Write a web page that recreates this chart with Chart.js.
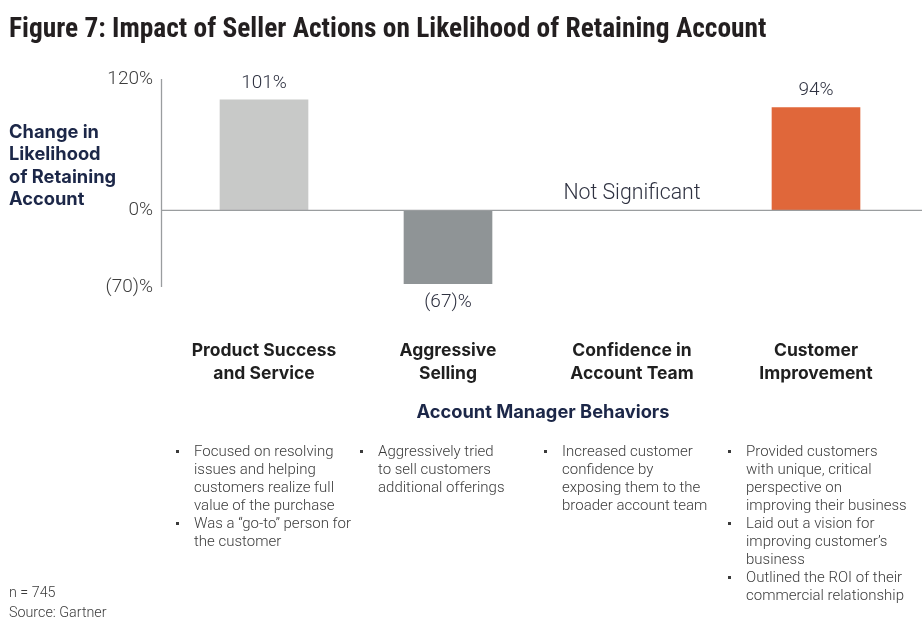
<!DOCTYPE html>
<html>
<head>
<meta charset="utf-8">
<script src="https://cdn.jsdelivr.net/npm/chart.js@4.4.1/dist/chart.umd.min.js"></script>
<style>
  html, body { margin: 0; padding: 0; background: #fff; }
  #wrap { position: relative; width: 922px; height: 624px; overflow: hidden; }
  #c { position: absolute; left: 0; top: 0; }
  .title { position: absolute; left: 9px; top: 12px; font-family: "Liberation Sans Narrow", "Roboto Condensed", sans-serif; font-weight: 700; font-size: 27.4px; color: #231f20; white-space: nowrap; }
  .ytitle { position: absolute; left: 9px; top: 120px; font-family: Inter, Roboto, sans-serif; font-weight: 700; font-size: 18.3px; line-height: 22.3px; color: #1c2748; }
  .col { position: absolute; top: 442px; font-family: Roboto, sans-serif; font-weight: 300; font-size: 15px; line-height: 18px; color: #3b3b3b; white-space: nowrap; }
  .item { position: relative; padding-left: 18px; }
  .item::before { content: ""; position: absolute; left: 0; top: 8px; width: 3px; height: 3px; background: #3b3b3b; }
  .foot { position: absolute; left: 9px; top: 582px; font-family: Roboto, sans-serif; font-weight: 300; font-size: 14.3px; line-height: 20px; color: #3b3b3b; }
</style>
</head>
<body>
<div id="wrap">
  <canvas id="c" width="922" height="624"></canvas>
  <div class="title" id="title"></div>
  <div class="ytitle" id="ytitle"></div>
  <div id="cols"></div>
  <div class="foot" id="foot"></div>
</div>
<script>
// ---- data ----
const titleText = "Figure 7: Impact of Seller Actions on Likelihood of Retaining Account";
const yAxisTitle = ["Change in", "Likelihood", "of Retaining", "Account"];
const xAxisTitle = "Account Manager Behaviors";
const categories = [
  ["Product Success", "and Service"],
  ["Aggressive", "Selling"],
  ["Confidence in", "Account Team"],
  ["Customer", "Improvement"]
];
const values = [101, -67, null, 94];
const valueLabels = ["101%", "(67)%", "Not Significant", "94%"];
const yTickValues = [-70, 0, 120];
const yTickLabels = ["(70)%", "0%", "120%"];
const barColors = ["#c8c9c8", "#8f9496", "rgba(0,0,0,0)", "#e0673a"];
const bullets = [
  [["Focused on resolving", "issues and helping", "customers realize full", "value of the purchase"], ["Was a \u201cgo-to\u201d person for", "the customer"]],
  [["Aggressively tried", "to sell customers", "additional offerings"]],
  [["Increased customer", "confidence by", "exposing them to the", "broader account team"]],
  [["Provided customers", "with unique, critical", "perspective on", "improving their business"], ["Laid out a vision for", "improving customer\u2019s", "business"], ["Outlined the ROI of their", "commercial relationship"]]
];
const footnotes = ["n = 745", "Source: Gartner"];

// ---- html text ----
document.getElementById('title').textContent = titleText;
document.getElementById('ytitle').innerHTML = yAxisTitle.map(s => '<div>' + s + '</div>').join('');
document.getElementById('foot').innerHTML = footnotes.map(s => '<div>' + s + '</div>').join('');

const lineColor = '#9a9d9f';

const overlay = {
  id: 'overlay',
  beforeDatasetsDraw(chart) {
    const {ctx, chartArea, scales: {y}} = chart;
    const axisX = chartArea.left - 10.5;
    ctx.save();
    ctx.strokeStyle = lineColor;
    ctx.lineWidth = 1.3;
    ctx.beginPath();
    ctx.moveTo(axisX, y.getPixelForValue(120));
    ctx.lineTo(axisX, y.getPixelForValue(-70));
    ctx.stroke();
    ctx.restore();
  },
  afterDatasetsDraw(chart) {
    const {ctx, chartArea, scales: {x, y}} = chart;
    const axisX = chartArea.left - 10.5;
    const y0 = y.getPixelForValue(0);
    ctx.save();
    ctx.strokeStyle = lineColor;
    ctx.lineWidth = 1.3;
    ctx.beginPath();
    ctx.moveTo(axisX, y0);
    ctx.lineTo(chart.width, y0);
    ctx.stroke();

    // value labels
    ctx.fillStyle = '#2e3140';
    ctx.textAlign = 'center';
    ctx.textBaseline = 'middle';
    values.forEach((v, i) => {
      const cx = x.getPixelForValue(i);
      let ty;
      ctx.font = '300 19px Roboto, sans-serif';
      if (v === null) { ty = y0 - 17; ctx.font = '300 21.3px Roboto, sans-serif'; }
      else if (v >= 0) ty = y.getPixelForValue(v) - 17;
      else ty = y.getPixelForValue(v) + 19;
      ctx.fillText(valueLabels[i], cx, ty);
    });

    // category labels
    ctx.font = '700 17.5px Inter, Roboto, sans-serif';
    ctx.fillStyle = '#1f1f1f';
    categories.forEach((lines, i) => {
      const cx = x.getPixelForValue(i);
      lines.forEach((s, k) => ctx.fillText(s, cx, chartArea.bottom + 64 + k * 23));
    });
    // x axis title
    ctx.font = '700 18.3px Inter, Roboto, sans-serif';
    ctx.fillStyle = '#1c2748';
    const mid = (x.getPixelForValue(0) + x.getPixelForValue(categories.length - 1)) / 2;
    ctx.fillText(xAxisTitle, mid + 3, chartArea.bottom + 126);
    ctx.restore();

    // bullets (html) positioned from category centers
    const cols = document.getElementById('cols');
    if (!cols.dataset.done) {
      cols.dataset.done = '1';
      bullets.forEach((items, i) => {
        const cx = x.getPixelForValue(i);
        const d = document.createElement('div');
        d.className = 'col';
        d.style.left = (cx - 88) + 'px';
        d.innerHTML = items.map(lines => '<div class="item">' + lines.join('<br>') + '</div>').join('');
        cols.appendChild(d);
      });
    }
  }
};

new Chart(document.getElementById('c'), {
  type: 'bar',
  data: {
    labels: categories,
    datasets: [{
      data: values,
      backgroundColor: barColors,
      borderWidth: 0,
      barThickness: 88
    }]
  },
  options: {
    responsive: false,
    animation: false,
    events: [],
    layout: { padding: { top: 79, right: 14, bottom: 337, left: 0 } },
    plugins: { legend: { display: false }, tooltip: { enabled: false } },
    scales: {
      x: { display: false },
      y: {
        min: -70,
        max: 120,
        afterBuildTicks: s => { s.ticks = yTickValues.map(v => ({ value: v })); },
        afterFit: s => { s.width = 172; },
        grid: { display: false },
        border: { display: false },
        ticks: {
          padding: 11,
          color: '#3d3d3d',
          font: { family: 'Roboto, sans-serif', size: 19, weight: '300' },
          callback: (v) => yTickLabels[yTickValues.indexOf(v)]
        }
      }
    }
  },
  plugins: [overlay]
});
</script>
</body>
</html>
